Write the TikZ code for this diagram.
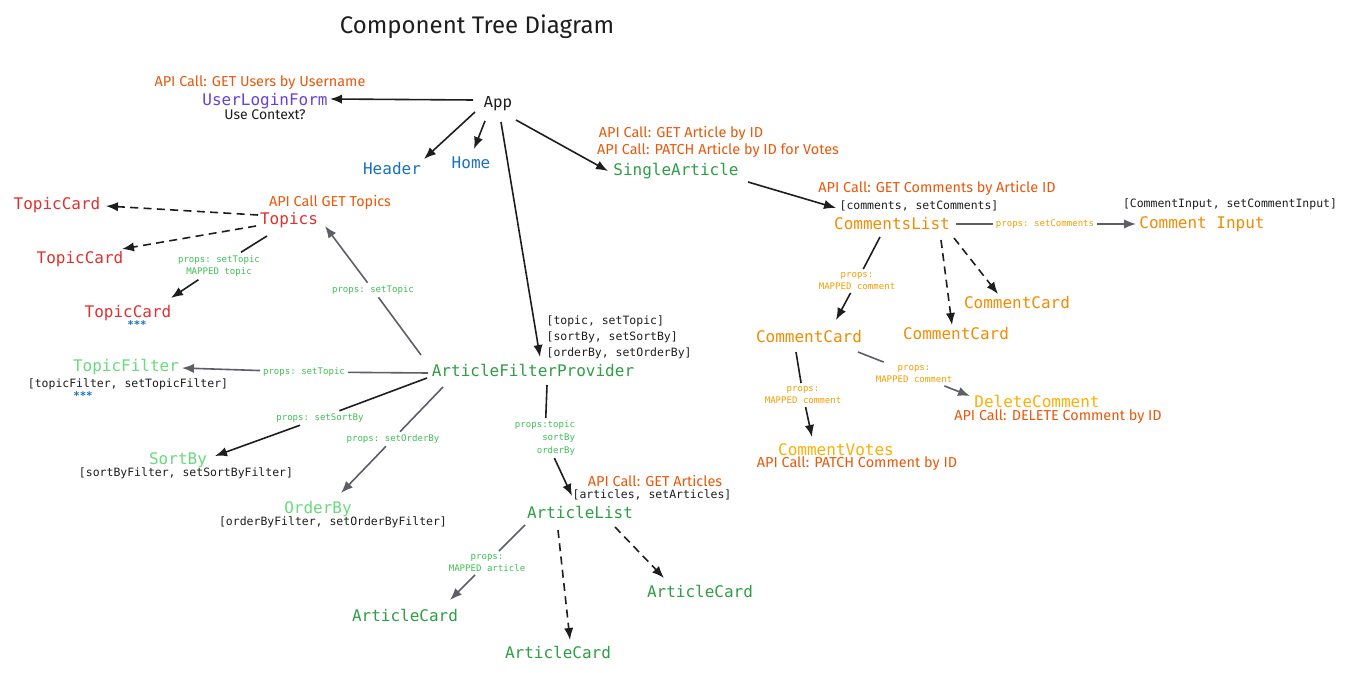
\documentclass[tikz,border=0pt]{standalone}
\usepackage{fontspec}
\setmonofont{DejaVu Sans Mono}
\newfontfamily\handfont{Fira Sans}
\usetikzlibrary{arrows.meta,calc}

\definecolor{apiorange}{HTML}{E8590C}
\definecolor{compurple}{HTML}{6741D9}
\definecolor{compblue}{HTML}{1971C2}
\definecolor{compgreen}{HTML}{2F9E44}
\definecolor{complight}{HTML}{69DB7C}
\definecolor{compred}{HTML}{E03131}
\definecolor{comporange}{HTML}{F08C00}
\definecolor{compyellow}{HTML}{FAB005}
\definecolor{lblgreen}{HTML}{40C057}
\definecolor{lblorange}{HTML}{F59F00}
\definecolor{inkblack}{HTML}{1E1E1E}
\definecolor{inkgrey}{HTML}{5C5F66}

\tikzset{
  comp/.style={font=\ttfamily\fontsize{12}{14}\selectfont, inner sep=2pt},
  statebox/.style={font=\ttfamily\fontsize{8.6}{12}\selectfont, text=inkblack, inner sep=1pt, align=left},
  lbl/.style={font=\ttfamily\fontsize{6.8}{9.6}\selectfont, inner sep=2pt, align=center},
  api/.style={font=\handfont\fontsize{10.8}{12}\selectfont, text=apiorange, inner sep=1pt},
  stars/.style={font=\ttfamily\bfseries\fontsize{8}{9}\selectfont, text=compblue, inner sep=0pt},
  wire/.style={line width=1.2pt, draw=inkblack},
  greywire/.style={wire, draw=inkgrey},
  link/.style={wire, -{Latex[length=9pt,width=7pt]}},
  greylink/.style={greywire, -{Latex[length=9pt,width=7pt]}},
  dashlink/.style={link, dash pattern=on 6pt off 4pt}
}

\begin{document}
\begin{tikzpicture}[x=0.75pt,y=-0.75pt]
\useasboundingbox[fill=white] (0,0) rectangle (1348,673);

% title and top row
\node[font=\handfont\fontsize{18}{20}\selectfont, text=inkblack] (title) at (477,27) {Component Tree Diagram};
\node[api] (apiusers) at (260,83) {API Call: GET Users by Username};
\node[comp, text=compurple] (login) at (265,101) {UserLoginForm};
\node[font=\handfont\fontsize{10.5}{12}\selectfont, text=inkblack] (context) at (265,115) {Use Context?};
\node[font=\handfont\fontsize{12}{14}\selectfont, text=inkblack] (app) at (498,104) {App};
\node[comp, text=compblue] (header) at (392,169) {Header};
\node[comp, text=compblue] (home) at (471,163) {Home};

% single article branch
\node[api] (apiarticle) at (681,133) {API Call: GET Article by ID};
\node[api] (apivotes) at (718,150) {API Call: PATCH Article by ID for Votes};
\node[comp, text=compgreen] (single) at (676,171) {SingleArticle};
\node[api] (apicomments) at (937,188) {API Call: GET Comments by Article ID};
\node[statebox] (commentsstate) at (919,206) {[comments, setComments]};
\node[comp, text=comporange] (commentslist) at (892,224) {CommentsList};
\node[statebox] (inputstate) at (1230,204) {[CommentInput, setCommentInput]};
\node[comp, text=comporange] (commentinput) at (1202,224) {Comment Input};
\node[lbl, text=lblorange] (lblsetcomments) at (1045,224) {props: setComments};
\node[lbl, text=lblorange] (lblmapcards) at (857,281) {props:\\MAPPED comment};
\node[comp, text=comporange] (cardright) at (1017,303) {CommentCard};
\node[comp, text=comporange] (cardmid) at (956,334) {CommentCard};
\node[comp, text=comporange] (cardleft) at (809,337) {CommentCard};
\node[lbl, text=lblorange] (lblmapdelete) at (914,374) {props:\\MAPPED comment};
\node[comp, text=compyellow] (delete) at (1037,401) {DeleteComment};
\node[api] (apidelete) at (1058,417) {API Call: DELETE Comment by ID};
\node[lbl, text=lblorange] (lblmapvotes) at (803,395) {props:\\MAPPED comment};
\node[comp, text=compyellow] (votes) at (836,450) {CommentVotes};
\node[api] (apipatch) at (857,464) {API Call: PATCH Comment by ID};

% topics branch
\node[api] (apitopics) at (330,202) {API Call GET Topics};
\node[comp, text=compred] (topics) at (289,220) {Topics};
\node[comp, text=compred] (topiccard1) at (57,205) {TopicCard};
\node[comp, text=compred] (topiccard2) at (80,259) {TopicCard};
\node[lbl, text=lblgreen] (lblmaptopic) at (219,266) {props: setTopic\\MAPPED topic};
\node[comp, text=compred] (topiccard3) at (128,313) {TopicCard};
\node[stars] (stars1) at (137,325) {***};
\node[lbl, text=lblgreen] (lbltopics) at (373,290) {props: setTopic};

% filter provider branch
\node[comp, text=complight] (topicfilter) at (126,367) {TopicFilter};
\node[statebox] (filterstate) at (128,384) {[topicFilter, setTopicFilter]};
\node[stars] (stars2) at (83,396) {***};
\node[lbl, text=lblgreen] (lblfilter) at (304,372) {props: setTopic};
\node[comp, text=compgreen] (provider) at (533,370) {ArticleFilterProvider};
\node[statebox, anchor=west] (providerstate) at (545,337) {[topic, setTopic]\\{}[sortBy, setSortBy]\\{}[orderBy, setOrderBy]};
\node[lbl, text=lblgreen] (lblsortby) at (320,418) {props: setSortBy};
\node[lbl, text=lblgreen] (lblorderby) at (393,439) {props: setOrderBy};
\node[comp, text=complight] (sortby) at (178,460) {SortBy};
\node[statebox] (sortstate) at (186,473) {[sortByFilter, setSortByFilter]};
\node[comp, text=complight] (orderby) at (318,509) {OrderBy};
\node[statebox] (orderstate) at (333,522) {[orderByFilter, setOrderByFilter]};
\node[lbl, text=lblgreen, align=right] (lblprovider) at (545,438) {props:topic\\sortBy\\orderBy};

% article list branch
\node[api] (apiarticles) at (655,481) {API Call: GET Articles};
\node[statebox] (articlesstate) at (652,495) {[articles, setArticles]};
\node[comp, text=compgreen] (articlelist) at (580,512) {ArticleList};
\node[lbl, text=lblgreen] (lblmaparticle) at (487,563) {props:\\MAPPED article};
\node[comp, text=compgreen] (articlecard1) at (405,615) {ArticleCard};
\node[comp, text=compgreen] (articlecard2) at (558,652) {ArticleCard};
\node[comp, text=compgreen] (articlecard3) at (700,591) {ArticleCard};

% connectors from App
\draw[link] ($(app)+(-25,-4)$) -- ($(login)+(65,-2)$);
\draw[link] ($(app)+(-23,8)$) -- ($(header)+(32,-10)$);
\draw[link] ($(app)+(-13,17)$) -- ($(home)+(3,-14)$);
\draw[link] ($(app)+(18,16)$) -- ($(single)+(-68,0)$);
\draw[link] ($(app)+(3,18)$) -- ($(provider)+(7,-13)$);

% comments
\draw[link] ($(single)+(72,11)$) -- ($(commentslist)+(-56,-16)$);
\draw[greywire] ($(commentslist)+(64,0)$) -- (lblsetcomments);
\draw[greylink] (lblsetcomments) -- ($(commentinput)+(-66,0)$);
\draw[wire] ($(commentslist)+(-12,13)$) -- (lblmapcards);
\draw[link] (lblmapcards) -- ($(cardleft)+(27,-17)$);
\draw[dashlink] ($(commentslist)+(49,16)$) -- ($(cardmid)+(-4,-9)$);
\draw[dashlink] ($(commentslist)+(62,14)$) -- ($(cardright)+(-19,-9)$);
\draw[wire] ($(cardleft)+(-13,15)$) -- (lblmapvotes);
\draw[link] (lblmapvotes) -- ($(votes)+(-24,-13)$);
\draw[greywire] ($(cardleft)+(49,15)$) -- (lblmapdelete);
\draw[greylink] (lblmapdelete) -- ($(delete)+(-67,-5)$);

% topics
\draw[dashlink] ($(topics)+(-31,-5)$) -- ($(topiccard1)+(49,1)$);
\draw[dashlink] ($(topics)+(-33,6)$) -- ($(topiccard2)+(42,-10)$);
\draw[wire] ($(topics)+(-22,16)$) -- (lblmaptopic);
\draw[link] (lblmaptopic) -- ($(topiccard3)+(43,-15)$);

% filter provider
\draw[greywire] ($(provider)+(-112,-15)$) -- (lbltopics);
\draw[greylink] (lbltopics) -- ($(topics)+(36,6)$);
\draw[greywire] ($(provider)+(-105,3)$) -- (lblfilter);
\draw[greylink] (lblfilter) -- ($(topicfilter)+(56,1)$);
\draw[wire] ($(provider)+(-106,8)$) -- (lblsortby);
\draw[link] (lblsortby) -- ($(sortby)+(37,-4)$);
\draw[greywire] ($(provider)+(-90,17)$) -- (lblorderby);
\draw[greylink] (lblorderby) -- ($(orderby)+(23,-16)$);
\draw[wire] ($(provider)+(14,15)$) -- (lblprovider);
\draw[link] (lblprovider) -- ($(articlelist)+(-8,-16)$);

% article list
\draw[greywire] ($(articlelist)+(-55,13)$) -- (lblmaparticle);
\draw[greylink] (lblmaparticle) -- ($(articlecard1)+(45,-15)$);
\draw[dashlink] ($(articlelist)+(-22,18)$) -- ($(articlecard2)+(12,-12)$);
\draw[dashlink] ($(articlelist)+(35,15)$) -- ($(articlecard3)+(-36,-13)$);
\end{tikzpicture}
\end{document}
